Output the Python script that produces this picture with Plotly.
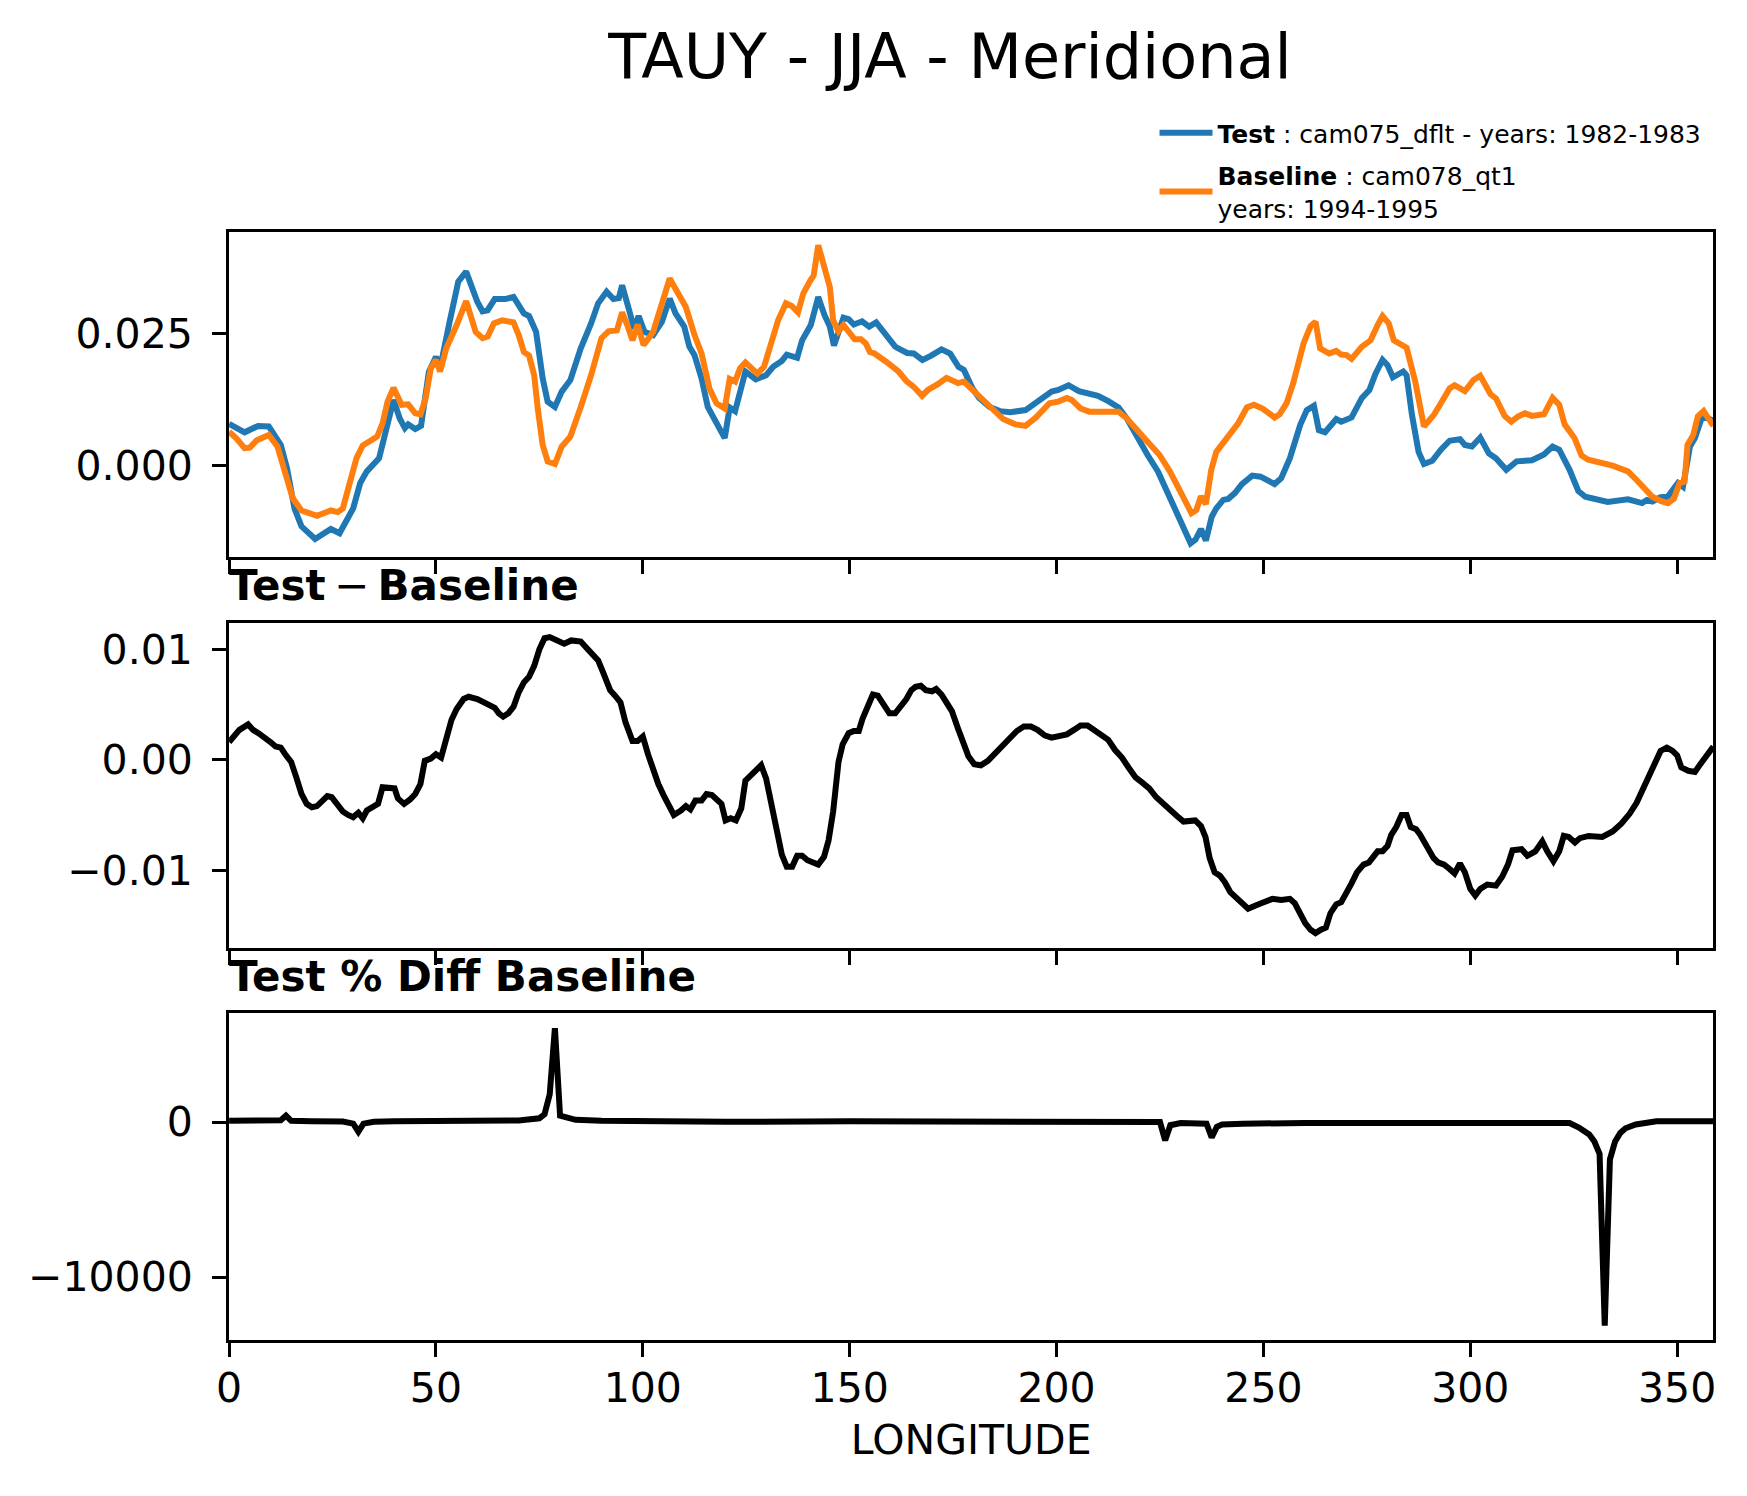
import plotly.graph_objects as go

# longitude / values
test_lon = [0, 3.75, 7, 9.6, 12.5, 14, 15.8, 17.5, 20.8, 24.6, 26.7, 30, 31.7, 33.3, 36.25, 37.9,
            39.75, 41.25, 42.5, 43.3, 45, 46.4, 48.3, 50, 51, 53.3, 55.4, 57.3, 60, 61.25, 62.5,
            64.2, 66.7, 68.75, 71.25, 72.5, 74.2, 75.8, 77, 78.75, 80.4, 82.5, 85, 87.5, 89.2,
            91.25, 92.9, 94.2, 95, 96.7, 97.9, 99, 100.4, 102.5, 104.6, 106.5, 107.9, 110,
            111.25, 112.5, 114.2, 115.7, 117.6, 119.8, 121, 122.3, 124.8, 127.3, 129.8, 131.5,
            133.6, 134.8, 137.3, 138.5, 140.6, 142.4, 143.9, 145.2, 146.2, 147.3, 148.5, 149.75,
            151, 153, 154.7, 156.4, 158.9, 161, 162.2, 163.9, 165.5, 167.6, 169.7, 172.2, 174.3,
            176.3, 177.6, 179.7, 181.3, 183.8, 186.3, 188.8, 192.5, 195, 197.1, 198.8, 200.4,
            202.9, 205.4, 207.9, 210, 212.5, 215, 217, 219.5, 222, 224.5, 227, 229.5, 231.1,
            232.4, 233.6, 234.9, 236.1, 237.5, 238.6, 240.3, 241.5, 243.1, 244.8, 247.3, 249.3,
            252.7, 254.3, 256.4, 258.9, 260.5, 262.2, 263.4, 264.9, 267.6, 268.8, 271.3, 273.8,
            275.6, 277.1, 278.8, 280, 281.3, 283.8, 284.6, 285.9, 287.5, 288.8, 290.8, 292.9,
            295, 297.5, 298.7, 300.4, 302.4, 304.5, 306.2, 308.7, 311.2, 314.9, 317.8, 319.9,
            321.5, 324, 326.1, 327.8, 333.2, 338.1, 341.5, 342.7, 344, 346, 347.7, 350.2, 351.4,
            353.1, 354.3, 356.1, 358.75]
test_val = [0.0079, 0.0063, 0.0075, 0.0074, 0.0039, -0.0005, -0.0081, -0.0115, -0.0139, -0.0120,
            -0.0128, -0.0081, -0.0033, -0.0011, 0.0014, 0.0064, 0.0124, 0.0089, 0.0071, 0.0078,
            0.0069, 0.0075, 0.0178, 0.0206, 0.0184, 0.0272, 0.0348, 0.0367, 0.0310, 0.0292,
            0.0294, 0.0315, 0.0315, 0.0319, 0.0288, 0.0283, 0.0253, 0.0165, 0.0121, 0.0111,
            0.0140, 0.0162, 0.0222, 0.0269, 0.0307, 0.0329, 0.0315, 0.0317, 0.0341, 0.0294,
            0.0259, 0.0283, 0.0253, 0.0247, 0.0272, 0.0316, 0.0288, 0.0263, 0.0225, 0.0209,
            0.0165, 0.0111, 0.0086, 0.0052, 0.0110, 0.0103, 0.0178, 0.0163, 0.0171, 0.0187,
            0.0198, 0.0210, 0.0204, 0.0237, 0.0266, 0.0319, 0.0285, 0.0263, 0.0227, 0.0253,
            0.0280, 0.0277, 0.0267, 0.0273, 0.0263, 0.0271, 0.0247, 0.0225, 0.0220, 0.0213,
            0.0212, 0.0200, 0.0208, 0.0220, 0.0212, 0.0187, 0.0181, 0.0146, 0.0128, 0.0111,
            0.0103, 0.0101, 0.0105, 0.0118, 0.0130, 0.0140, 0.0143, 0.0152, 0.0141, 0.0135,
            0.0132, 0.0122, 0.0110, 0.0089, 0.0052, 0.0020, -0.0011, -0.0055, -0.0100, -0.0131,
            -0.0147, -0.0140, -0.0120, -0.0142, -0.0097, -0.0081, -0.0065, -0.0063, -0.0052,
            -0.0035, -0.0019, -0.0021, -0.0035, -0.0024, 0.0014, 0.0077, 0.0105, 0.0113, 0.0067,
            0.0063, 0.0088, 0.0083, 0.0091, 0.0128, 0.0143, 0.0174, 0.0200, 0.0190, 0.0167,
            0.0178, 0.0171, 0.0096, 0.0026, 0.0003, 0.0009, 0.0030, 0.0047, 0.0050, 0.0039,
            0.0036, 0.0053, 0.0023, 0.0014, -0.0008, 0.0008, 0.0010, 0.0021, 0.0036, 0.0030,
            -0.0008, -0.0048, -0.0059, -0.0069, -0.0064, -0.0071, -0.0065, -0.0068, -0.0060,
            -0.0059, -0.0033, -0.0040, 0.0036, 0.0052, 0.0094, 0.0085]

base_lon = [0, 1.7, 3.75, 5, 6.7, 9.6, 11.7, 13.3, 15.4, 17.5, 21.25, 24.6, 26.25, 27.5, 29.2,
            30.8, 32.3, 35.8, 37.1, 38.3, 39.75, 41.7, 43.3, 45, 46.25, 47.5, 48.75, 50, 51,
            52.5, 55, 57.3, 59.6, 61.25, 62.5, 64, 66, 68.75, 70, 71.25, 72.5, 73.75, 74.6, 75.8,
            77, 78.75, 80.4, 82.5, 85, 87.5, 90, 91.7, 93.75, 95, 96.25, 97.5, 98.75, 100.2,
            102.5, 104.6, 106.5, 108.3, 110.4, 112.5, 114.2, 116.1, 117.8, 119.8, 121, 122.3,
            123.5, 124.8, 127.7, 129.3, 131, 132.7, 134.6, 136, 137.5, 138.8, 140.4, 141.3,
            142.4, 143.9, 145.2, 146, 147.3, 148.5, 149.75, 151.2, 152.7, 153.9, 154.9, 156,
            158.9, 161.8, 163.7, 165.5, 167.5, 168.9, 171.3, 173.4, 176.2, 177.6, 180.5, 183.8,
            187.1, 190, 192.5, 195, 198.3, 200.4, 202.5, 203.7, 205.8, 207.9, 211.6, 215, 217,
            219.5, 222, 224.9, 227.4, 229.9, 232.6, 233.8, 234.9, 236.1, 237.4, 238.6, 240.7,
            242.4, 243.9, 246, 247.7, 249.8, 252.7, 253.9, 255.6, 257.2, 259.7, 261.4, 262.6,
            263.7, 265.9, 267.6, 268.8, 270.1, 271.3, 273.8, 275.9, 277.6, 278.8, 280.3, 281.5,
            284.6, 286.7, 288.8, 291.2, 292.9, 295, 296.2, 298.7, 300.8, 302.4, 304.9, 306.2,
            308.3, 309.9, 311.6, 313.2, 314.9, 317.8, 319.9, 321.5, 322.8, 325.2, 326.9, 328.5,
            334.4, 338.1, 339.8, 341.5, 342.7, 344, 346, 347.7, 349.2, 350.6, 351.8, 352.5,
            353.9, 355, 356.4, 358.75]
base_val = [0.0064, 0.0052, 0.0033, 0.0034, 0.0048, 0.0058, 0.0036, -0.0005, -0.0062, -0.0085,
            -0.0095, -0.0085, -0.0088, -0.0081, -0.0033, 0.0014, 0.0038, 0.0055, 0.0080, 0.0121,
            0.0147, 0.0115, 0.0116, 0.0099, 0.0097, 0.0127, 0.0184, 0.0200, 0.0178, 0.0222,
            0.0266, 0.0311, 0.0253, 0.0241, 0.0244, 0.0269, 0.0275, 0.0271, 0.0247, 0.0215,
            0.0208, 0.0171, 0.0108, 0.0039, 0.0008, 0.0003, 0.0036, 0.0055, 0.0111, 0.0171,
            0.0241, 0.0254, 0.0256, 0.0290, 0.0266, 0.0237, 0.0267, 0.0228, 0.0253, 0.0303,
            0.0354, 0.0329, 0.0300, 0.0247, 0.0212, 0.0146, 0.0118, 0.0108, 0.0164, 0.0159,
            0.0184, 0.0195, 0.0174, 0.0187, 0.0231, 0.0275, 0.0307, 0.0302, 0.0290, 0.0326,
            0.0349, 0.0360, 0.0417, 0.0373, 0.0338, 0.0275, 0.0254, 0.0266, 0.0254, 0.0239,
            0.0239, 0.0231, 0.0215, 0.0212, 0.0196, 0.0178, 0.0160, 0.0149, 0.0132, 0.0143,
            0.0154, 0.0166, 0.0156, 0.0159, 0.0137, 0.0111, 0.0088, 0.0078, 0.0075, 0.0091,
            0.0118, 0.0121, 0.0128, 0.0124, 0.0108, 0.0102, 0.0102, 0.0102, 0.0089, 0.0069,
            0.0045, 0.0020, -0.0011, -0.0049, -0.0090, -0.0084, -0.0058, -0.0073, -0.0008,
            0.0026, 0.0047, 0.0067, 0.0080, 0.0110, 0.0115, 0.0108, 0.0091, 0.0097, 0.0118,
            0.0156, 0.0231, 0.0264, 0.0272, 0.0222, 0.0212, 0.0217, 0.0210, 0.0209, 0.0202,
            0.0225, 0.0237, 0.0266, 0.0283, 0.0269, 0.0237, 0.0223, 0.0159, 0.0074, 0.0096,
            0.0118, 0.0146, 0.0152, 0.0141, 0.0162, 0.0170, 0.0135, 0.0127, 0.0094, 0.0083,
            0.0093, 0.0099, 0.0094, 0.0097, 0.0128, 0.0115, 0.0078, 0.0052, 0.0019, 0.0011,
            0.0000, -0.0011, -0.0024, -0.0038, -0.0046, -0.0059, -0.0067, -0.0071, -0.0063,
            -0.0033, -0.0030, 0.0039, 0.0058, 0.0093, 0.0103, 0.0075]

diff_lon = [0, 2.5, 4.6, 5.8, 7.1, 8.3, 10, 11.25, 12.5, 13.75, 15, 16.25, 17.5, 18.75, 20, 21.25,
            22.5, 23.75, 24.8, 26.25, 27.5, 28.75, 30, 31.25, 32.3, 33.3, 34.6, 36, 37.1, 38.75,
            40, 40.8, 42.3, 43.75, 45, 46.25, 47.3, 48.75, 50, 51.25, 52.5, 53.75, 55, 56.7,
            57.9, 60, 62.1, 64.2, 65.2, 66.25, 67.5, 68.75, 70, 71.25, 72.5, 73.75, 75, 76.25,
            77.5, 79.2, 81, 82.7, 85, 86.7, 89.2, 90.4, 92.1, 93.3, 94.6, 95.8, 97.5, 98.75,
            100, 101.25, 102.5, 103.75, 105, 106.25, 107.5, 109.2, 110.4, 111.5, 112.7, 114.2,
            115.4, 116.7, 117.9, 119, 120, 121.25, 122.5, 123.8, 124.8, 126.5, 127.7, 128.6,
            129.8, 131.1, 132.3, 133.6, 134.8, 136.1, 137.3, 138.5, 139.8, 141, 142.4, 143.8,
            144.9, 146, 146.8, 147.3, 148.3, 149.75, 151, 152.2, 153.1, 154.3, 155.6, 156.8,
            158.1, 159.6, 161, 162.2, 163.7, 164.9, 165.9, 167.2, 168.4, 169.9, 170.9, 172.2,
            173.4, 174.7, 176.2, 177.6, 178.7, 180.1, 181.7, 183.4, 185.5, 187.1, 188.8, 190.4,
            192.1, 193.8, 195.4, 197.1, 198.8, 200.4, 202.5, 204.2, 205.8, 207.5, 209.1, 210.8,
            212.5, 214.1, 215.8, 217.4, 219.1, 220.8, 222.4, 224.1, 225.7, 227.4, 229.1, 230.7,
            232, 233.5, 234.9, 236, 237, 238.2, 239.5, 240.7, 242, 243.5, 244.8, 246.3, 248.1,
            250.2, 252.2, 254.3, 256.4, 257.6, 258.9, 260.1, 261.4, 262.6, 263.9, 265.1, 266.2,
            267.6, 268.8, 270.1, 271.3, 272.6, 274.2, 275.5, 276.7, 277.6, 278.8, 280, 280.9,
            282.1, 283.4, 284.6, 285.6, 286.9, 287.9, 289.6, 291.1, 292.2, 293.7, 295, 296.2,
            297.5, 298.7, 300, 301.2, 302.4, 304.1, 306.2, 307.7, 309.1, 310.2, 312.4, 313.8,
            315.7, 317.4, 318.6, 320.1, 321.5, 322.6, 323.8, 325.3, 326.5, 328.6, 331.9, 334.4,
            336.5, 338.5, 340.2, 341.9, 343.5, 344.8, 346, 347.5, 348.9, 350, 351, 352.7, 354.3,
            355.6, 356.8, 358.75]
diff_val = [0.0016, 0.0027, 0.0032, 0.0027, 0.0024, 0.0020, 0.0016, 0.0012, 0.0011, 0.0004,
            -0.0002, -0.0016, -0.0031, -0.0040, -0.0043, -0.0042, -0.0037, -0.0033, -0.0034,
            -0.0041, -0.0047, -0.0050, -0.0052, -0.0048, -0.0053, -0.0046, -0.0043, -0.0040,
            -0.0025, -0.0025, -0.0026, -0.0035, -0.0040, -0.0036, -0.0031, -0.0022, -0.0001,
            0.0001, 0.0005, 0.0002, 0.0017, 0.0036, 0.0046, 0.0055, 0.0057, 0.0055, 0.0051,
            0.0047, 0.0042, 0.0039, 0.0042, 0.0048, 0.0061, 0.0070, 0.0075, 0.0085, 0.0100,
            0.0110, 0.0111, 0.0108, 0.0105, 0.0108, 0.0107, 0.0100, 0.0090, 0.0079, 0.0063,
            0.0058, 0.0052, 0.0034, 0.0017, 0.0017, 0.0021, 0.0005, -0.0010, -0.0022, -0.0032,
            -0.0041, -0.0050, -0.0046, -0.0042, -0.0045, -0.0037, -0.0037, -0.0031, -0.0032,
            -0.0037, -0.0040, -0.0055, -0.0053, -0.0055, -0.0044, -0.0019, -0.0013, -0.0008,
            -0.0005, -0.0017, -0.0040, -0.0064, -0.0086, -0.0097, -0.0097, -0.0087, -0.0087,
            -0.0091, -0.0093, -0.0095, -0.0088, -0.0073, -0.0047, -0.0025, -0.0002, 0.0014,
            0.0024, 0.0026, 0.0026, 0.0037, 0.0048, 0.0059, 0.0058, 0.0051, 0.0042, 0.0042,
            0.0047, 0.0055, 0.0063, 0.0066, 0.0067, 0.0063, 0.0062, 0.0064, 0.0059, 0.0051,
            0.0044, 0.0028, 0.0013, 0.0003, -0.0004, -0.0005, -0.0001, 0.0007, 0.0014, 0.0019,
            0.0026, 0.0030, 0.0030, 0.0027, 0.0022, 0.0020, 0.0021, 0.0023, 0.0027, 0.0031,
            0.0031, 0.0027, 0.0023, 0.0018, 0.0009, 0.0002, -0.0007, -0.0016, -0.0021, -0.0026,
            -0.0034, -0.0040, -0.0045, -0.0051, -0.0056, -0.0055, -0.0055, -0.0060, -0.0070,
            -0.0089, -0.0102, -0.0105, -0.0111, -0.0120, -0.0125, -0.0131, -0.0135, -0.0132,
            -0.0129, -0.0126, -0.0127, -0.0126, -0.0130, -0.0139, -0.0148, -0.0154, -0.0157,
            -0.0154, -0.0152, -0.0139, -0.0131, -0.0129, -0.0121, -0.0112, -0.0102, -0.0095,
            -0.0093, -0.0088, -0.0083, -0.0083, -0.0078, -0.0068, -0.0061, -0.0050, -0.0050,
            -0.0061, -0.0063, -0.0068, -0.0079, -0.0089, -0.0093, -0.0095, -0.0099, -0.0103,
            -0.0094, -0.0102, -0.0117, -0.0123, -0.0117, -0.0113, -0.0114, -0.0106, -0.0095,
            -0.0082, -0.0081, -0.0087, -0.0083, -0.0074, -0.0083, -0.0092, -0.0083, -0.0069,
            -0.0070, -0.0075, -0.0071, -0.0069, -0.0070, -0.0065, -0.0058, -0.0049, -0.0039,
            -0.0025, -0.0011, -0.0001, 0.0008, 0.0011, 0.0008, 0.0004, -0.0007, -0.0010,
            -0.0011, -0.0004, 0.0002, 0.0012]

pct_lon = [0, 5, 10, 12.5, 13.75, 15, 20, 27.5, 30, 31.25, 32.5, 35, 40, 50, 60, 70, 75, 76.25,
           77.5, 78.75, 80, 81.25, 83.75, 90, 100, 120, 150, 180, 200, 220, 225, 226.25, 227.5,
           230, 235, 236.25, 237.5, 238.75, 240, 245, 260, 280, 300, 320, 324, 326.25, 328.75,
           330, 331.25, 332.5, 333.75, 335, 336.25, 337.5, 340, 345, 350, 358.75]
pct_val = [80, 120, 100, 120, 420, 80, 60, 40, -100, -620, -100, 20, 60, 80, 90, 110, 250, 500,
           1800, 6060, 420, 320, 150, 80, 50, 20, 50, 60, 40, 30, 0, -1180, -200, -60, -80, -100,
           -990, -300, -150, -100, -60, -40, -50, -20, -60, -350, -800, -1250, -2050, -13140,
           -2400, -1250, -700, -400, -150, 60, 50, 60]

lon_ticks = [0, 50, 100, 150, 200, 250, 300, 350]
top_ticks = [0.0, 0.025]
mid_ticks = [-0.01, 0.0, 0.01]
bot_ticks = [-10000, 0]

test_name = "<b>Test</b> : cam075_dflt - years: 1982-1983"
base_name = "<b>Baseline</b> : cam078_qt1<br>years: 1994-1995"

FONT = "DejaVu Sans"
W, H = 1747, 1496
OFF = 8  # page body margin


def px(x):
    return (x - OFF) / W


def py(y):
    return 1 - (y - OFF) / H


xdom = [px(218), px(1716)]

fig = go.Figure()
fig.add_trace(go.Scatter(x=test_lon, y=test_val, mode="lines", name=test_name, legendgroup="t",
                         line=dict(color="#1f77b4", width=6), xaxis="x", yaxis="y"))
fig.add_trace(go.Scatter(x=base_lon, y=base_val, mode="lines", name=base_name, legendgroup="b",
                         line=dict(color="#ff7f0e", width=6), xaxis="x", yaxis="y"))
fig.add_trace(go.Scatter(x=diff_lon, y=diff_val, mode="lines", showlegend=False,
                         line=dict(color="black", width=6), xaxis="x2", yaxis="y2"))
fig.add_trace(go.Scatter(x=pct_lon, y=pct_val, mode="lines", showlegend=False,
                         line=dict(color="black", width=6), xaxis="x3", yaxis="y3"))

axis_style = dict(showline=True, mirror=True, linecolor="black", linewidth=3,
                  ticks="outside", ticklen=14, tickwidth=3, tickcolor="black",
                  showgrid=False, zeroline=False,
                  tickfont=dict(family=FONT, size=41, color="black"))


def xax(anchor, labels):
    return dict(axis_style, domain=xdom, anchor=anchor, range=[0, 358.75],
                tickvals=lon_ticks, showticklabels=labels, ticklabelstandoff=-4)


def yax(anchor, top, bottom, rng, ticks, fmt):
    return dict(axis_style, domain=[py(bottom), py(top)], anchor=anchor, range=rng,
                tickvals=ticks, tickformat=fmt, ticklabelstandoff=11)


fig.update_layout(
    width=W, height=H,
    margin=dict(l=0, r=0, t=0, b=0),
    plot_bgcolor="white", paper_bgcolor="white",
    font=dict(family=FONT, color="black"),
    title=dict(text="TAUY - JJA - Meridional", x=px(950), xanchor="center",
               y=py(56), yanchor="middle", font=dict(size=62, family=FONT)),
    xaxis=xax("y", False),
    xaxis2=xax("y2", False),
    xaxis3=dict(xax("y3", True),
                title=dict(text="LONGITUDE", font=dict(size=41, family=FONT), standoff=15)),
    yaxis=yax("x", 232, 557, [-0.0173, 0.0442], top_ticks, ".3f"),
    yaxis2=yax("x2", 623, 948, [-0.01705, 0.01238], mid_ticks, ".2f"),
    yaxis3=yax("x3", 1013, 1340, [-14060, 7040], bot_ticks, "d"),
    legend=dict(x=px(1152), y=py(110), xanchor="left", yanchor="top",
                bgcolor="rgba(0,0,0,0)", font=dict(size=25, family=FONT),
                itemwidth=53, tracegroupgap=7),
    showlegend=True,
)

# panel titles, left aligned above the 2nd and 3rd panels
fig.add_annotation(text="<b>Test</b>\u2009−\u2009<b>Baseline</b>", xref="paper", yref="paper",
                   x=px(216), y=py(612), xanchor="left", yanchor="bottom",
                   showarrow=False, font=dict(size=42, family=FONT))
fig.add_annotation(text="<b>Test % Diff Baseline</b>", xref="paper", yref="paper",
                   x=px(216), y=py(1003), xanchor="left", yanchor="bottom",
                   showarrow=False, font=dict(size=42, family=FONT))

fig.write_html("out.html")
